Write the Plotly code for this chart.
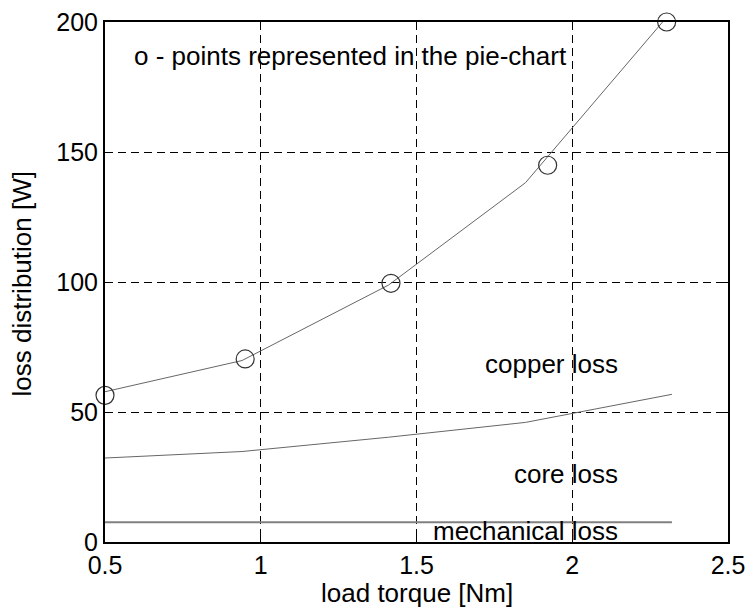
import plotly.graph_objects as go

# line data (load torque [Nm] vs loss [W])
torque = [0.5, 0.94, 1.41, 1.85, 2.32]
total_torque = [0.5, 0.94, 1.41, 1.85, 2.29]
total_loss = [57.8, 69.8, 98.8, 138.2, 200.0]
core_plus_mech = [32.3, 34.8, 40.3, 46.0, 56.8]
mech_loss = [7.6, 7.6, 7.6, 7.6, 7.6]

# points represented in the pie-chart
pie_torque = [0.5, 0.95, 1.418, 1.921, 2.303]
pie_loss = [56.4, 70.4, 99.5, 144.9, 200.0]

x_ticks = [0.5, 1, 1.5, 2, 2.5]
x_ticklabels = ["0.5", "1", "1.5", "2", "2.5"]
y_ticks = [0, 50, 100, 150, 200]
y_ticklabels = ["0", "50", "100", "150", "200"]

FONT = "Liberation Sans, Arial, Helvetica, sans-serif"
FS_TICK = 25
FS_TEXT = 26

fig = go.Figure()
fig.add_trace(go.Scatter(x=torque, y=mech_loss, mode="lines",
                         line=dict(color="#808080", width=2), hoverinfo="skip"))
fig.add_trace(go.Scatter(x=torque, y=core_plus_mech, mode="lines",
                         line=dict(color="#666666", width=1), hoverinfo="skip"))
fig.add_trace(go.Scatter(x=total_torque, y=total_loss, mode="lines",
                         line=dict(color="#666666", width=1), hoverinfo="skip"))
fig.add_trace(go.Scatter(x=pie_torque, y=pie_loss, mode="markers",
                         marker=dict(symbol="circle-open", size=18,
                                     color="#333333", line=dict(width=1.2, color="#333333")),
                         cliponaxis=False, hoverinfo="skip"))

ann_font = dict(family=FONT, size=FS_TEXT, color="black")
fig.add_annotation(x=0.587, y=186.8, text="o - points represented in the pie-chart",
                   xanchor="left", yanchor="middle", showarrow=False, font=ann_font)
fig.add_annotation(x=2.153, y=68.5, text="copper loss",
                   xanchor="right", yanchor="middle", showarrow=False, font=ann_font)
fig.add_annotation(x=2.153, y=26.2, text="core loss",
                   xanchor="right", yanchor="middle", showarrow=False, font=ann_font)
fig.add_annotation(x=2.153, y=4.2, text="mechanical loss",
                   xanchor="right", yanchor="middle", showarrow=False, font=ann_font)

# axis titles
fig.add_annotation(x=0.5, y=-0.099, xref="paper", yref="paper", text="load torque [Nm]",
                   xanchor="center", yanchor="middle", showarrow=False, font=ann_font)
fig.add_annotation(x=-0.1326, y=0.496, xref="paper", yref="paper", text="loss distribution [W]",
                   textangle=-90, xanchor="center", yanchor="middle", showarrow=False,
                   font=ann_font)

grid = dict(showgrid=True, gridcolor="black", gridwidth=1, griddash="8px,5px")
axis_common = dict(showline=True, linecolor="black", linewidth=2, mirror="ticks",
                   ticks="inside", ticklen=6, tickwidth=1, tickcolor="black",
                   zeroline=False, tickfont=dict(family=FONT, size=FS_TICK, color="black"),
                   **grid)

fig.update_xaxes(range=[0.5, 2.5], tickvals=x_ticks, ticktext=x_ticklabels,
                 ticklabelstandoff=0, **axis_common)
fig.update_yaxes(range=[0, 200], tickvals=y_ticks, ticktext=y_ticklabels,
                 ticklabelstandoff=0, **axis_common)

fig.update_layout(width=748, height=614, showlegend=False,
                  plot_bgcolor="white", paper_bgcolor="white",
                  margin=dict(l=105, r=20, t=22, b=72, autoexpand=False))

fig.write_html("out.html", config={"displayModeBar": False},
               post_script="document.body.style.margin='0';document.body.style.overflow='hidden';")
